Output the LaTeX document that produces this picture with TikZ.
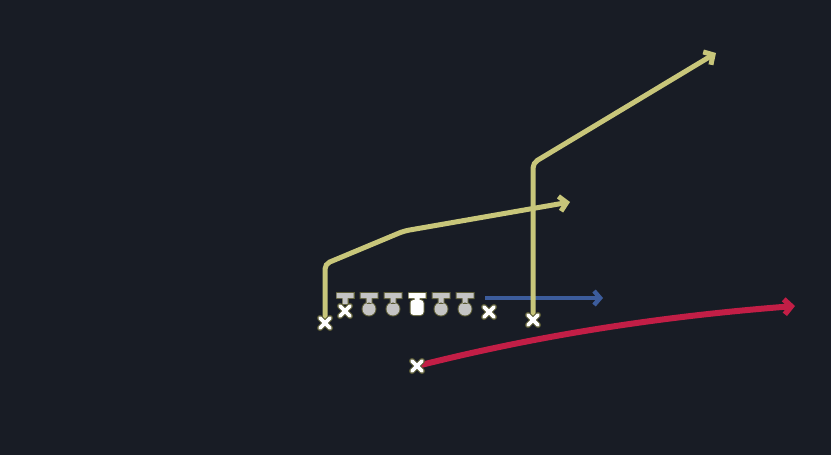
\documentclass[tikz,border=0pt]{standalone}
\usetikzlibrary{arrows.meta,calc}
\definecolor{bg}{HTML}{181C25}
\definecolor{route}{HTML}{C8C67A}
\definecolor{edge}{HTML}{5C5C36}
\definecolor{blueroute}{HTML}{3C5C9C}
\definecolor{redroute}{HTML}{C21E46}
\definecolor{player}{HTML}{C4C4C4}
\tikzset{
  routeline/.style={line width=5pt, route, rounded corners=5pt, -{Straight Barb[length=7pt,width=15pt,line width=5pt]}},
  blueline/.style={line width=4.5pt, blueroute, -{Straight Barb[length=6pt,width=14pt,line width=4.5pt]}},
  redline/.style={line width=6pt, redroute, -{Straight Barb[length=7pt,width=15pt,line width=5.5pt]}},
  xedge/.style={line width=6pt, edge, line cap=round},
  xwhite/.style={line width=3.8pt, white, line cap=round},
  pics/crossmark/.style={code={
    \draw[xedge] (-5,-5) -- (5,5) (-5,5) -- (5,-5);
    \draw[xwhite] (-5,-5) -- (5,5) (-5,5) -- (5,-5);
  }},
  pics/lineman/.style={code={
    \filldraw[edge, line width=2pt] (-8.5,-3) rectangle (8.5,2) (-2.5,1) rectangle (2.5,8) (0,13) circle[radius=6.5];
    \fill[player] (-8.5,-3) rectangle (8.5,2) (-2.5,1) rectangle (2.5,8) (0,13) circle[radius=6.5];
  }},
  pics/centerman/.style={code={
    \filldraw[edge, line width=2pt] (-8.5,-3) rectangle (8.5,2) (-2.5,1) rectangle (2.5,5);
    \filldraw[edge, line width=2pt, rounded corners=3pt] (-6.5,4) rectangle (6.5,19);
    \fill[white] (-8.5,-3) rectangle (8.5,2) (-2.5,1) rectangle (2.5,5);
    \fill[white, rounded corners=3pt] (-6.5,4) rectangle (6.5,19);
  }},
  pics/endman/.style={code={
    \filldraw[edge, line width=2pt] (-8.5,-3) rectangle (8.5,2) (-2.5,1) rectangle (2.5,8);
    \fill[player] (-8.5,-3) rectangle (8.5,2) (-2.5,1) rectangle (2.5,8);
  }}
}
\begin{document}
\begin{tikzpicture}[x=1pt,y=-1pt]
\fill[bg] (0,0) rectangle (831,455);
\useasboundingbox (0,0) rectangle (831,455);
% players (X marks)
\coordinate (wl) at (325,323);
\coordinate (te) at (345,311);
\coordinate (sl) at (489,312);
\coordinate (wr) at (533,320);
\coordinate (rb) at (417,366);
% route waypoints
\coordinate (wl1) at (325,264);
\coordinate (wl2) at (404,231);
\coordinate (wlend) at (570,202);
\coordinate (wr1) at (533,163);
\coordinate (wrend) at (716,53);
\coordinate (bls) at (485,298);
\coordinate (blend) at (603,298);
\coordinate (rdend) at (795,306);
% routes
\draw[routeline] (wl) -- (wl1) -- (wl2) -- (wlend);
\draw[blueline] (bls) -- (blend);
\draw[routeline] (wr) -- (wr1) -- (wrend);
\draw[redline] (rb) .. controls (520,340) and (640,318) .. (rdend);
% line
\pic at (345,296) {endman};
\pic at (369,296) {lineman};
\pic at (393,296) {lineman};
\pic at (417,296) {centerman};
\pic at (441,296) {lineman};
\pic at (465,296) {lineman};
% X marks
\pic at (wl) {crossmark};
\pic at (te) {crossmark};
\pic at (sl) {crossmark};
\pic at (wr) {crossmark};
\pic at (rb) {crossmark};
\end{tikzpicture}
\end{document}
